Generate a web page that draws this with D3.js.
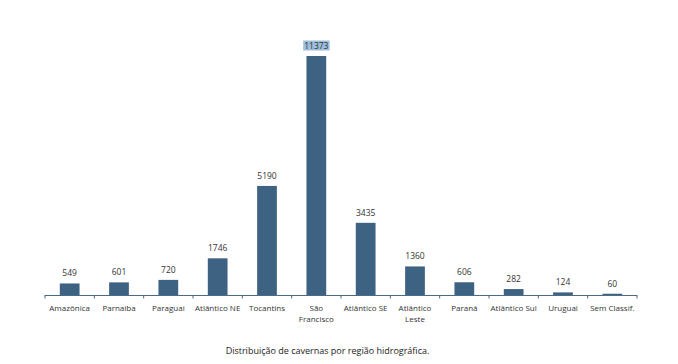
<!DOCTYPE html>
<html><head><meta charset="utf-8">
<script src="https://cdn.jsdelivr.net/npm/d3@7"></script>
<style>html,body{margin:0;padding:0;background:#fff;}svg{display:block;}</style>
</head><body>
<svg id="c" width="678" height="364"></svg>
<script>
const categories = ["Amazônica","Parnaíba","Paraguai","Atlântico NE","Tocantins","São Francisco","Atlântico SE","Atlântico Leste","Paraná","Atlântico Sul","Uruguai","Sem Classif."];
const labelLines = [["Amazônica"],["Parnaíba"],["Paraguai"],["Atlântico NE"],["Tocantins"],["São","Francisco"],["Atlântico SE"],["Atlântico","Leste"],["Paraná"],["Atlântico Sul"],["Uruguai"],["Sem Classif."]];
const values = [549,601,720,1746,5190,11373,3435,1360,606,282,124,60];
const caption = "Distribuição de cavernas por região hidrográfica.";

const svg = d3.select("#c");
const font = "'Open Sans', sans-serif";
const x0 = 45, x1 = 637, yBase = 295, yTopMax = 56;
const x = d3.scaleBand().domain(categories).range([x0, x1]).paddingInner(0.6).paddingOuter(0.3);
const y = d3.scaleLinear().domain([0, d3.max(values)]).range([yBase, yTopMax]);
const barColor = "#3e6282";

svg.selectAll("rect.bar").data(values).join("rect")
  .attr("class","bar")
  .attr("x",(d,i)=>x(categories[i]))
  .attr("width",x.bandwidth())
  .attr("y",d=>y(d))
  .attr("height",d=>yBase-y(d))
  .attr("fill",barColor);

const maxI = values.indexOf(d3.max(values));
const lbl = svg.selectAll("text.val").data(values).join("text")
  .attr("class","val")
  .attr("x",(d,i)=>x(categories[i])+x.bandwidth()/2)
  .attr("y",d=>y(d)-7)
  .attr("text-anchor","middle")
  .attr("font-family",font).attr("font-size",8.5).attr("fill","#333")
  .text(d=>d);
const node = lbl.nodes()[maxI];
const bb = node.getBBox();
svg.insert("rect","text.val").attr("x",bb.x-1).attr("y",bb.y+0.5).attr("width",bb.width+2).attr("height",bb.height-1).attr("fill","#9dbfdc");

const band = (x1-x0)/categories.length;
svg.append("line").attr("x1",x0).attr("x2",x1).attr("y1",yBase+0.5).attr("y2",yBase+0.5).attr("stroke","#4a6a88").attr("stroke-width",1);
svg.selectAll("line.tick").data(d3.range(categories.length+1)).join("line")
  .attr("class","tick")
  .attr("x1",i=>x0+i*band).attr("x2",i=>x0+i*band)
  .attr("y1",yBase).attr("y2",yBase+3.5)
  .attr("stroke","#4a6a88").attr("stroke-width",1);

const cl = svg.selectAll("text.cat").data(labelLines).join("text")
  .attr("class","cat")
  .attr("text-anchor","middle")
  .attr("font-family",font).attr("font-size",8).attr("fill","#333");
cl.each(function(lines,i){
  const t = d3.select(this);
  lines.forEach((ln,j)=>{
    t.append("tspan").attr("x",x(categories[i])+x.bandwidth()/2).attr("y",311+j*11).text(ln);
  });
});

svg.append("text").attr("x",327.5).attr("y",353.5).attr("text-anchor","middle")
  .attr("font-family",font).attr("font-size",9).attr("fill","#222").text(caption);
</script>
</body></html>
